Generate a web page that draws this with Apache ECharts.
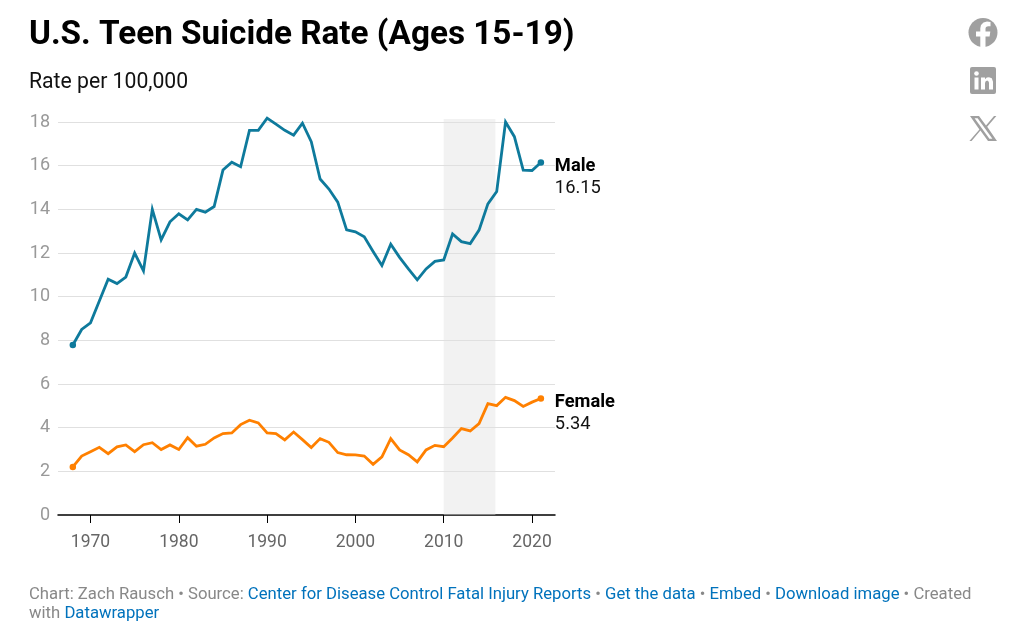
<!DOCTYPE html>
<html><head><meta charset="utf-8">
<style>html,body{margin:0;padding:0;background:#fff}#c{width:1024px;height:634px}</style>
<script src="https://cdn.jsdelivr.net/npm/echarts@6/dist/echarts.min.js"></script>
</head><body><div id="c"></div>
<script>
const years = [1968,1969,1970,1971,1972,1973,1974,1975,1976,1977,1978,1979,1980,1981,1982,1983,1984,1985,1986,1987,1988,1989,1990,1991,1992,1993,1994,1995,1996,1997,1998,1999,2000,2001,2002,2003,2004,2005,2006,2007,2008,2009,2010,2011,2012,2013,2014,2015,2016,2017,2018,2019,2020,2021];
const male = [7.79,8.5,8.8,9.8,10.8,10.6,10.9,12.0,11.18,14.0,12.6,13.43,13.8,13.52,14.0,13.87,14.13,15.8,16.16,15.95,17.62,17.62,18.18,17.9,17.62,17.4,17.95,17.1,15.39,14.93,14.33,13.06,12.97,12.74,12.07,11.43,12.4,11.8,11.27,10.77,11.27,11.62,11.68,12.87,12.52,12.43,13.05,14.25,14.82,18.0,17.33,15.8,15.78,16.15];
const female = [2.2,2.7,2.9,3.1,2.81,3.12,3.21,2.9,3.22,3.31,3.0,3.21,3.0,3.54,3.15,3.24,3.53,3.73,3.76,4.14,4.34,4.22,3.76,3.73,3.44,3.8,3.45,3.09,3.5,3.33,2.86,2.76,2.75,2.7,2.32,2.66,3.5,2.98,2.76,2.43,2.98,3.19,3.13,3.53,3.96,3.85,4.19,5.1,5.01,5.39,5.24,4.97,5.17,5.34];
const xTicks = [1970,1980,1990,2000,2010,2020];
const bandYears = [2010,2015.85];
const bandTop = 18.14;
const titleText = 'U.S. Teen Suicide Rate (Ages 15-19)';
const subtitleText = 'Rate per 100,000';
const FONT = 'Roboto';
const GREY = '#888888', BLUE = '#0072bc';

const chart = echarts.init(document.getElementById('c'), null, {renderer:'canvas'});
const pair = a => a.map((v,i)=>[years[i],v]);
const endSize = (v,p)=> (p.dataIndex===0||p.dataIndex===years.length-1)?6.5:0;
const endLabel = (name,val)=>({
  show:true, distance:14, align:'left', verticalAlign:'middle', offset:[0,15.5],
  formatter:()=>`{b|${name}}\n{v|${val}}`,
  rich:{b:{fontFamily:FONT,fontWeight:700,fontSize:18.3,lineHeight:22,color:'#000'},
        v:{fontFamily:FONT,fontWeight:400,fontSize:18.3,lineHeight:22,color:'#111'}}
});
const ICON = '#a0a0a0';
chart.setOption({
  animation:false,
  backgroundColor:'#fff',
  textStyle:{fontFamily:FONT},
  title:[
    {text:titleText,left:24,top:14,textStyle:{fontFamily:FONT,fontWeight:700,fontSize:33.3,color:'#000'}},
    {text:subtitleText,left:24,top:67,textStyle:{fontFamily:FONT,fontWeight:400,fontSize:21.2,color:'#111'}},
    {text:'{g|Chart: Zach Rausch • Source: }{l|Center for Disease Control Fatal Injury Reports}{g| • }{l|Get the data}{g| • }{l|Embed}{g| • }{l|Download image}{g| • Created}\n{g|with }{l|Datawrapper}',
     left:24,top:580,
     textStyle:{rich:{g:{fontFamily:FONT,fontWeight:400,fontSize:16.7,lineHeight:19,color:GREY},l:{fontFamily:FONT,fontWeight:400,fontSize:16.7,lineHeight:19,color:BLUE}}}}
  ],
  grid:{left:58,right:469,top:113.3,bottom:119,containLabel:false},
  xAxis:{type:'value',min:1966.32,max:2022.6,
    axisLine:{show:true,onZero:false,lineStyle:{color:'#000',width:1.5}},
    axisTick:{show:true,length:8,customValues:xTicks,lineStyle:{color:'#000',width:1}},
    axisLabel:{customValues:xTicks,margin:19,fontFamily:FONT,fontSize:17.5,color:'#666',formatter:v=>String(v)},
    splitLine:{show:false}},
  yAxis:{type:'value',min:0,max:18.4,interval:2,
    axisLine:{show:false},axisTick:{show:false},
    axisLabel:{margin:8,showMaxLabel:false,padding:[4,0,0,0],fontFamily:FONT,fontSize:18,color:'#999'},
    splitLine:{show:true,showMaxLine:false,showMinLine:false,lineStyle:{color:'#e0e0e0',width:1}}},
  series:[
    {name:'Male',type:'line',data:pair(male),showSymbol:true,showAllSymbol:true,symbol:'circle',symbolSize:endSize,
     lineStyle:{color:'#0e7a9c',width:2.8,join:'miter'},itemStyle:{color:'#0e7a9c'},clip:false,z:3,
     endLabel:endLabel('Male','16.15'),
     markArea:{silent:true,itemStyle:{color:'rgba(225,225,225,0.42)'},
       data:[[{xAxis:bandYears[0],yAxis:0},{xAxis:bandYears[1],yAxis:bandTop}]]}},
    {name:'Female',type:'line',data:pair(female),showSymbol:true,showAllSymbol:true,symbol:'circle',symbolSize:endSize,
     lineStyle:{color:'#ff8000',width:2.8,join:'miter'},itemStyle:{color:'#ff8000'},clip:false,z:3,
     endLabel:endLabel('Female','5.34')}
  ],
  graphic:[
    {type:'circle',shape:{cx:983,cy:32.5,r:14.5},style:{fill:ICON}},
    {type:'polygon',shape:{points:[[985.5,47],[985.5,36.5],[989.6,36.5],[990.3,31.5],[985.5,31.5],[985.5,28.6],[986,27],[988,26.2],[990.5,26.2],[990.5,21.9],[987,21.6],[983.5,22.4],[981,25],[980.3,28.2],[980.3,31.5],[976,31.5],[976,36.5],[980.3,36.5],[980.3,47]]},style:{fill:'#fff'}},
    {type:'rect',shape:{x:970,y:67,width:26,height:27,r:2},style:{fill:ICON}},
    {type:'rect',shape:{x:974.5,y:77.5,width:4,height:12},style:{fill:'#fff'}},
    {type:'circle',shape:{cx:976.5,cy:73.5,r:2.3},style:{fill:'#fff'}},
    {type:'polygon',shape:{points:[[981,77.5],[985,77.5],[985,79.2],[986.8,77.6],[989,77.2],[991.8,78.2],[993,81.8],[993,89.5],[989,89.5],[989,82.8],[988.4,81.2],[987.2,80.6],[985.7,81.3],[985,83],[985,89.5],[981,89.5]]},style:{fill:'#fff'}},
    {type:'polygon',shape:{points:[[970,116],[979,116],[986,125.6],[994,116],[996.4,116],[987.2,126.8],[997,141],[988,141],[980.4,130.6],[971.6,141],[969.4,141],[979.4,129.4]]},style:{fill:ICON}},
    {type:'polygon',shape:{points:[[974.6,118.2],[977.6,118.2],[992.4,138.8],[989.4,138.8]]},style:{fill:'#fff'}}
  ]
});
</script></body></html>
